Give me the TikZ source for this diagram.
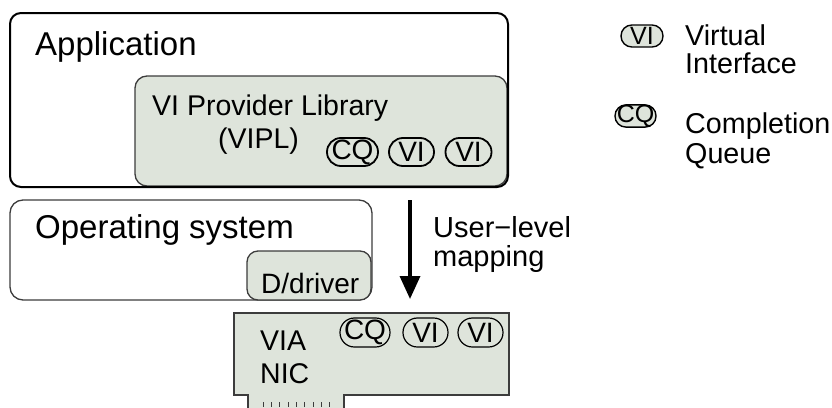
\documentclass[tikz,border=0pt]{standalone}
\usepackage{fontspec}
\setmainfont{Liberation Sans}
\usetikzlibrary{arrows.meta}
\definecolor{boxfill}{RGB}{222,228,219}
\definecolor{edgegray}{RGB}{60,60,60}
\begin{document}
\begin{tikzpicture}[x=1pt,y=-1pt,
  lbl/.style={anchor=base west,inner sep=0,font=\fontsize{#1}{#1}\selectfont},
  pill/.style={draw=black,fill=boxfill,rectangle,inner sep=0,line width=1.6pt},
  pilltxt/.style={font=\fontsize{#1}{#1}\selectfont},
  grayedge/.style={draw=edgegray,line width=1.3pt}]
\useasboundingbox (0,0) rectangle (832,407);

% Application with VIPL
\draw[grayedge,fill=boxfill,rounded corners=12pt] (135,76) rectangle (507,186);
\draw[black,line width=2pt,rounded corners=11pt] (10,13) rectangle (508,187);
\node[lbl=33] (app) at (35,55) {Application};
\node[lbl=28.5] (vipl) at (152,115) {VI Provider Library};
\node[lbl=28.5] (viplb) at (218,148) {(VIPL)};
\node[pill,line width=1.8pt,rounded corners=13.9pt,minimum width=51pt,minimum height=28pt,pilltxt=28] (cq1) at (352.5,152) {CQ};
\node[pill,line width=1.8pt,rounded corners=13.9pt,minimum width=45pt,minimum height=28pt,pilltxt=28] (vi1) at (411.5,152) {VI};
\node[pill,line width=1.8pt,rounded corners=13.9pt,minimum width=46pt,minimum height=28pt,pilltxt=28] (vi2) at (468.5,152) {VI};

% Operating system
\draw[grayedge,rounded corners=13pt] (10,200) rectangle (372,300);
\node[lbl=33] (os) at (35,238) {Operating system};
\draw[grayedge,fill=boxfill,rounded corners=11pt] (247,251) rectangle (371,300);
\node[lbl=28] (drv) at (261,293) {D/driver};

% mapping arrow
\coordinate (atop) at (410,200);
\coordinate (abot) at (410,299);
\draw[line width=3.5pt,-{Triangle[width=20pt,length=23pt]}] (atop) -- (abot);
\node[lbl=29] (ul) at (433,237) {User−level};
\node[lbl=29] (mp) at (433,266) {mapping};

% VIA NIC card
\draw[draw=edgegray,line width=1.2pt,fill=boxfill]
  (234,313) -- (509,313) -- (509,395) -- (344,395) -- (344,415)
  -- (248,415) -- (248,395) -- (234,395) -- cycle;
\foreach \k in {0,...,8}{
  \draw[edgegray,line width=0.6pt] (263+8.3*\k,402) -- (263+8.3*\k,407);
}
\node[lbl=28.5] (via) at (260,350) {VIA};
\node[lbl=28.5] (nic) at (260,383) {NIC};
\node[pill,line width=1.2pt,rounded corners=14.4pt,minimum width=50pt,minimum height=29pt,pilltxt=28] (cq2) at (365,332.5) {CQ};
\node[pill,line width=1.2pt,rounded corners=14.4pt,minimum width=45pt,minimum height=29pt,pilltxt=28] (vi3) at (425.5,332.5) {VI};
\node[pill,line width=1.2pt,rounded corners=14.4pt,minimum width=45pt,minimum height=29pt,pilltxt=28] (vi4) at (480.5,332.5) {VI};

% Legend
\node[pill,line width=1.4pt,rounded corners=10.9pt,minimum width=42pt,minimum height=22pt,pilltxt=25] (lvi) at (642,36) {VI};
\node[lbl=28.7] (lv1) at (685,45) {Virtual};
\node[lbl=28.7] (lv2) at (685,73) {Interface};
\node[pill,line width=1.4pt,rounded corners=10.9pt,minimum width=41pt,minimum height=22pt,pilltxt=25] (lcq) at (635.5,116) {CQ};
\node[lbl=28.7] (lc1) at (685,133) {Completion};
\node[lbl=28.7] (lc2) at (685,163) {Queue};
\end{tikzpicture}
\end{document}
